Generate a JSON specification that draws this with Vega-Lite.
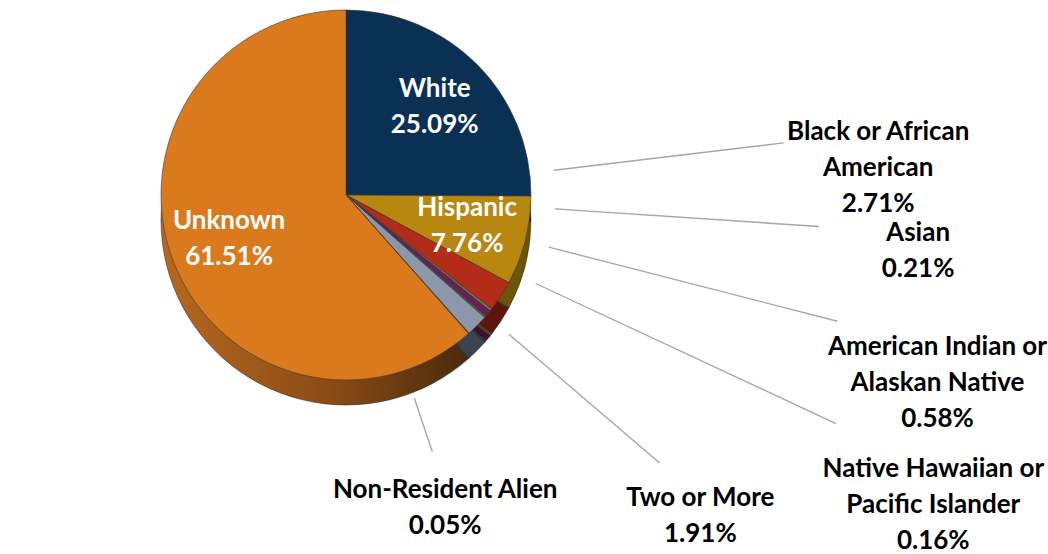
{
  "$schema": "https://vega.github.io/schema/vega-lite/v6.json",
  "width": 692,
  "height": 390,
  "autosize": {"type": "none"},
  "padding": {"left": 0, "top": 0, "right": 356, "bottom": 164},
  "background": "white",
  "config": {"view": {"stroke": null}},
  "data": {
    "values": [
      {"rank": 1, "name": "White", "share": 0.2509, "label": "White\n25.09%"},
      {"rank": 2, "name": "Hispanic", "share": 0.0776, "label": "Hispanic\n7.76%"},
      {"rank": 3, "name": "Black or African American", "share": 0.0271, "label": "Black or African\nAmerican\n2.71%"},
      {"rank": 4, "name": "Asian", "share": 0.0021, "label": "Asian\n0.21%"},
      {"rank": 5, "name": "American Indian or Alaskan Native", "share": 0.0058, "label": "American Indian or\nAlaskan Native\n0.58%"},
      {"rank": 6, "name": "Native Hawaiian or Pacific Islander", "share": 0.0016, "label": "Native Hawaiian or\nPacific Islander\n0.16%"},
      {"rank": 7, "name": "Two or More", "share": 0.0191, "label": "Two or More\n1.91%"},
      {"rank": 8, "name": "Non-Resident Alien", "share": 0.0005, "label": "Non-Resident Alien\n0.05%"},
      {"rank": 9, "name": "Unknown", "share": 0.6151, "label": "Unknown\n61.51%"}
    ]
  },
  "layer": [
    {
      "mark": {"type": "arc", "radius": 185, "yOffset": 25, "stroke": "#222222", "strokeWidth": 0.5},
      "encoding": {
        "theta": {"field": "share", "type": "quantitative", "stack": true},
        "order": {"field": "rank", "type": "quantitative"},
        "fill": {
          "condition": {
            "test": "datum.name === 'Unknown'",
            "value": {"gradient": "linear", "x1": 0, "y1": 0, "x2": 1, "y2": 0,
              "stops": [{"offset": 0, "color": "#B8681E"}, {"offset": 0.55, "color": "#8A4C15"}, {"offset": 1, "color": "#4A2A0C"}]}
          },
          "field": "name",
          "type": "nominal",
          "legend": null,
          "scale": {
            "domain": ["White", "Hispanic", "Black or African American", "Asian", "American Indian or Alaskan Native", "Native Hawaiian or Pacific Islander", "Two or More", "Non-Resident Alien", "Unknown"],
            "range": ["#05203C", "#6E5408", "#5C150B", "#4A4A1E", "#3F0F38", "#33391E", "#3D4451", "#2B3A4A", "#7A4414"]
          }
        }
      }
    },
    {
      "transform": [{"filter": {"field": "name", "oneOf": ["Black or African American", "Asian", "American Indian or Alaskan Native", "Native Hawaiian or Pacific Islander"]}}],
      "mark": {"type": "arc", "theta2Offset": 0.0003, "filled": false, "stroke": "#A6A6A6", "strokeWidth": 1.3},
      "encoding": {
        "theta": {"field": "name", "type": "nominal", "scale": {"type": "point", "padding": 0, "domain": ["Black or African American", "Asian", "American Indian or Alaskan Native", "Native Hawaiian or Pacific Islander"], "range": [1.4521, 2.0071]}},
        "theta2": {"field": "name"},
        "radius": {"field": "name", "type": "nominal", "scale": {"type": "point", "padding": 0, "domain": ["Black or African American", "Asian", "American Indian or Alaskan Native", "Native Hawaiian or Pacific Islander"], "range": [440, 540]}},
        "radius2": {"value": 210}
      }
    },
    {
      "transform": [{"filter": {"field": "name", "oneOf": ["Two or More", "Non-Resident Alien"]}}],
      "mark": {"type": "arc", "theta2Offset": 0.0003, "filled": false, "stroke": "#A6A6A6", "strokeWidth": 1.3},
      "encoding": {
        "theta": {"field": "name", "type": "nominal", "scale": {"type": "point", "padding": 0, "domain": ["Two or More", "Non-Resident Alien"], "range": [2.2777, 2.817]}},
        "theta2": {"field": "name"},
        "radius": {"field": "name", "type": "nominal", "scale": {"type": "point", "padding": 0, "domain": ["Two or More", "Non-Resident Alien"], "range": [412, 270]}},
        "radius2": {"value": 215}
      }
    },
    {
      "mark": {"type": "arc", "radius": 185, "stroke": "#3B3B3B", "strokeWidth": 0.6},
      "encoding": {
        "theta": {"field": "share", "type": "quantitative", "stack": true},
        "order": {"field": "rank", "type": "quantitative"},
        "fill": {
          "field": "name",
          "type": "nominal",
          "legend": null,
          "scale": {
            "domain": ["White", "Hispanic", "Black or African American", "Asian", "American Indian or Alaskan Native", "Native Hawaiian or Pacific Islander", "Two or More", "Non-Resident Alien", "Unknown"],
            "range": ["#0A3054", "#B8870F", "#B22C18", "#7A7A34", "#6A1E5E", "#56613A", "#8D97AB", "#3A5A7A", "#DB7A1D"]
          }
        }
      }
    },
    {
      "mark": {"type": "text", "radius": 125, "dy": -18, "font": "Lato", "fontSize": 26, "fontWeight": "bold", "fill": "white", "lineBreak": "\n", "lineHeight": 36, "align": "center", "baseline": "middle"},
      "encoding": {
        "theta": {"field": "share", "type": "quantitative", "stack": true},
        "order": {"field": "rank", "type": "quantitative"},
        "text": {"condition": {"test": "indexof(['White', 'Hispanic', 'Unknown'], datum.name) >= 0", "field": "label"}, "value": ""}
      }
    },
    {
      "transform": [{"filter": {"field": "name", "oneOf": ["Black or African American", "Asian", "American Indian or Alaskan Native", "Native Hawaiian or Pacific Islander"]}}],
      "mark": {"type": "text", "font": "Lato", "fontSize": 26, "fontWeight": "bold", "fill": "#000000", "lineBreak": "\n", "lineHeight": 36, "align": "center", "baseline": "middle"},
      "encoding": {
        "theta": {"field": "name", "type": "nominal", "scale": {"type": "point", "padding": 0, "domain": ["Black or African American", "Asian", "American Indian or Alaskan Native", "Native Hawaiian or Pacific Islander"], "range": [1.4521, 2.0071]}},
        "radius": {"field": "name", "type": "nominal", "scale": {"type": "point", "padding": 0, "domain": ["Black or African American", "Asian", "American Indian or Alaskan Native", "Native Hawaiian or Pacific Islander"], "range": [536, 648]}},
        "text": {"field": "label"}
      }
    },
    {
      "transform": [{"filter": {"field": "name", "oneOf": ["Two or More", "Non-Resident Alien"]}}],
      "mark": {"type": "text", "font": "Lato", "fontSize": 26, "fontWeight": "bold", "fill": "#000000", "lineBreak": "\n", "lineHeight": 36, "align": "center", "baseline": "middle"},
      "encoding": {
        "theta": {"field": "name", "type": "nominal", "scale": {"type": "point", "padding": 0, "domain": ["Two or More", "Non-Resident Alien"], "range": [2.2777, 2.817]}},
        "radius": {"field": "name", "type": "nominal", "scale": {"type": "point", "padding": 0, "domain": ["Two or More", "Non-Resident Alien"], "range": [466, 311]}},
        "text": {"field": "label"}
      }
    }
  ],
  "resolve": {"scale": {"theta": "independent", "radius": "independent", "fill": "independent"}}
}
